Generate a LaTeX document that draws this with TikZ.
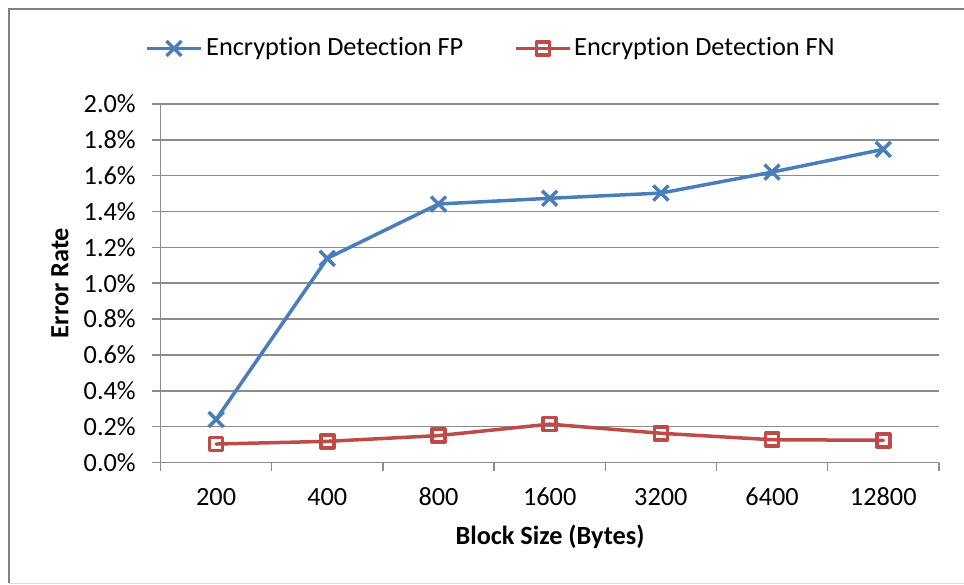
\documentclass[tikz,border=0pt]{standalone}
\usepackage{fontspec}
\setmainfont[Ligatures=NoCommon,RawFeature={-clig}]{Carlito}
\definecolor{fpblue}{HTML}{4A7EBB}
\definecolor{fnred}{HTML}{BE4B48}
\definecolor{gridgray}{HTML}{8C8C8C}
\definecolor{framegray}{HTML}{808080}
\definecolor{framelight}{HTML}{D9D9D9}
\tikzset{
  gridline/.style={gridgray, line width=1.5pt},
  fpline/.style={fpblue, line width=3.5pt, line join=round, line cap=round},
  fnline/.style={fnred, line width=3.5pt, line join=round, line cap=round},
  ticklab/.style={font=\fontsize{26.3}{30}\selectfont, inner sep=0pt},
  axtitle/.style={font=\fontsize{26.3}{30}\selectfont\bfseries, inner sep=0pt},
  legtext/.style={font=\fontsize{26.3}{30}\selectfont, inner sep=0pt, anchor=west},
  fpmark/.style={fpblue, line width=3.5pt},
  fnmark/.style={fnred, line width=3.5pt, line join=round},
}
\newcommand{\xmarkat}[1]{\draw[fpmark] ($(#1)+(-7.5,-7.5)$) -- ($(#1)+(7.5,7.5)$) ($(#1)+(-7.5,7.5)$) -- ($(#1)+(7.5,-7.5)$);}
\newcommand{\sqmarkat}[1]{\draw[fnmark] ($(#1)+(-6.5,-6.5)$) rectangle ($(#1)+(6.5,6.5)$);}
\usetikzlibrary{calc}
\begin{document}
\begin{tikzpicture}[x=1pt,y=-1pt]
\useasboundingbox (0,0) rectangle (964,585);
\fill[white] (0,0) rectangle (964,585);
% frame
\draw[framegray, line width=2pt] (8.5,583) -- (8.5,9.5) -- (964,9.5);
\draw[framelight, line width=1.5pt] (8.5,583.5) -- (964,583.5);
% gridlines and y ticks
\foreach \k/\lab in {0/0.0,1/0.2,2/0.4,3/0.6,4/0.8,5/1.0,6/1.2,7/1.4,8/1.6,9/1.8,10/2.0}{
  \pgfmathsetmacro{\yy}{462.5-35.85*\k}
  \draw[gridline] (152,\yy) -- (939,\yy);
  \node[ticklab, anchor=east] (yl\k) at (136,\yy) {\lab\%};
}
% axes
\draw[gridline] (160.5,104) -- (160.5,462.5);
\foreach \k in {0,...,7}{
  \pgfmathsetmacro{\xx}{160.5+111.2*\k}
  \draw[gridline] (\xx,462.5) -- (\xx,470.5);
}
% x labels
\foreach \k/\lab in {0/200,1/400,2/800,3/1600,4/3200,5/6400,6/12800}{
  \pgfmathsetmacro{\xx}{216.1+111.2*\k}
  \node[ticklab] (xl\k) at (\xx,497) {\lab};
}
% axis titles
\node[axtitle] (xt) at (550,537) {Block Size (Bytes)};
\node[axtitle, rotate=90] (yt) at (60,283) {Error Rate};
% data coordinates
\foreach \k/\v in {0/0.24,1/1.139,2/1.442,3/1.474,4/1.503,5/1.62,6/1.747}{
  \coordinate (p\k) at ({216.1+111.2*\k},{462.5-179.25*\v});
}
\foreach \k/\v in {0/0.103,1/0.118,2/0.150,3/0.214,4/0.163,5/0.127,6/0.124}{
  \coordinate (q\k) at ({216.1+111.2*\k},{462.5-179.25*\v});
}
\draw[fnline] (q0) -- (q1) -- (q2) -- (q3) -- (q4) -- (q5) -- (q6);
\foreach \k in {0,...,6}{ \sqmarkat{q\k} }
\draw[fpline] (p0) -- (p1) -- (p2) -- (p3) -- (p4) -- (p5) -- (p6);
\foreach \k in {0,...,6}{ \xmarkat{p\k} }
% legend
\coordinate (la) at (147,48.5);
\coordinate (lb) at (201,48.5);
\coordinate (lm) at (174,48.5);
\draw[fpline, line cap=butt] (la) -- (lb);
\xmarkat{lm}
\node[legtext] (lt1) at (206,48.5) {Encryption Detection FP};
\coordinate (ra) at (516,48.5);
\coordinate (rb) at (570,48.5);
\coordinate (rm) at (543,48.5);
\draw[fnline, line cap=butt] (ra) -- (rb);
\sqmarkat{rm}
\node[legtext] (lt2) at (574,48.5) {Encryption Detection FN};
\end{tikzpicture}
\end{document}
